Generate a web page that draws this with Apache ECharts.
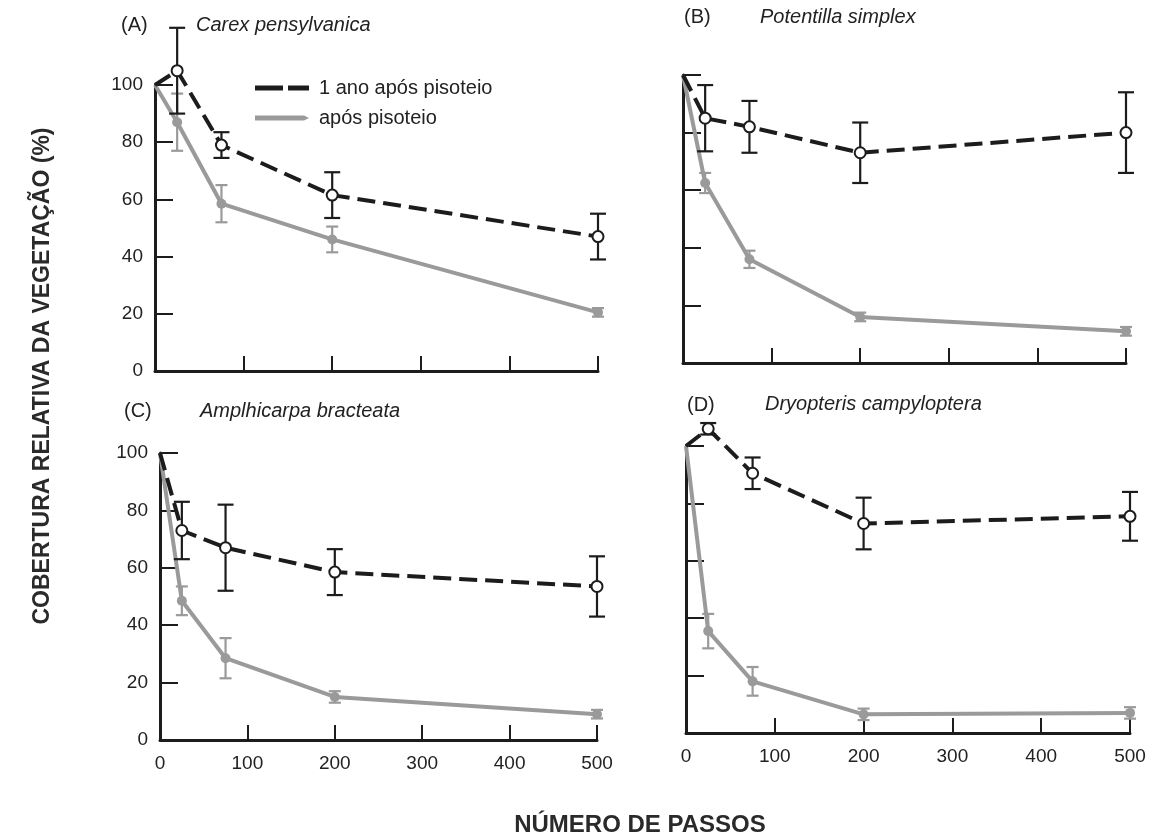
<!DOCTYPE html>
<html>
<head>
<meta charset="utf-8">
<script src="https://cdn.jsdelivr.net/npm/echarts@6/dist/echarts.min.js"></script>
<style>
  html, body { margin: 0; padding: 0; background: #fff; }
  #chart { width: 1152px; height: 836px; }
</style>
</head>
<body>
<div id="chart"></div>
<script>
// número de passos
var steps = [0, 25, 75, 200, 500];

// (A) Carex pensylvanica
var anoA = [100, 105, 79, 61.5, 47];
var anoErrA = [0, 15, 4.5, 8, 8];
var posA = [100, 87, 58.5, 46, 20.5];
var posErrA = [0, 10, 6.5, 4.5, 1.5];

// (B) Potentilla simplex
var anoB = [100, 85, 82, 73, 80];
var anoErrB = [0, 11.5, 9, 10.5, 14];
var posB = [100, 62.5, 36, 16, 11];
var posErrB = [0, 3.5, 3, 1.5, 1.5];

// (C) Amplhicarpa bracteata
var anoC = [100, 73, 67, 58.5, 53.5];
var anoErrC = [0, 10, 15, 8, 10.5];
var posC = [100, 48.5, 28.5, 15, 9];
var posErrC = [0, 5, 7, 2, 1.5];

// (D) Dryopteris campyloptera
var anoD = [100, 106, 90.5, 73, 75.5];
var anoErrD = [0, 2, 5.5, 9, 8.5];
var posD = [100, 35.5, 18, 6.5, 7];
var posErrD = [0, 6, 5, 2, 2];

var yTicks = [0, 20, 40, 60, 80, 100];
var xTicks = [0, 100, 200, 300, 400, 500];

var ANO = '1 ano após pisoteio';
var POS = 'após pisoteio';
var BLACK = '#1c1c1c';
var GRAY = '#9a9a9a';
var FONT = 'Liberation Sans';

var panels = [
  { tag: '(A)', name: 'Carex pensylvanica', ano: anoA, anoErr: anoErrA, pos: posA, posErr: posErrA,
    grid: { left: 155, top: 85, width: 443, height: 286 }, xLab: false, yLab: true,
    tagPos: [121, 15], namePos: [196, 15] },
  { tag: '(B)', name: 'Potentilla simplex', ano: anoB, anoErr: anoErrB, pos: posB, posErr: posErrB,
    grid: { left: 683, top: 75, width: 443, height: 288 }, xLab: false, yLab: false,
    tagPos: [684, 7], namePos: [760, 7] },
  { tag: '(C)', name: 'Amplhicarpa bracteata', ano: anoC, anoErr: anoErrC, pos: posC, posErr: posErrC,
    grid: { left: 160, top: 453, width: 437, height: 287 }, xLab: true, yLab: true,
    tagPos: [124, 401], namePos: [200, 401] },
  { tag: '(D)', name: 'Dryopteris campyloptera', ano: anoD, anoErr: anoErrD, pos: posD, posErr: posErrD,
    grid: { left: 686, top: 446, width: 444, height: 287 }, xLab: true, yLab: false,
    tagPos: [687, 395], namePos: [765, 394] }
];

function lineData(vals) {
  return steps.map(function (s, i) {
    return i === 0 ? { value: [s, vals[i]], symbol: 'none' } : [s, vals[i]];
  });
}

function errData(vals, errs) {
  var out = [];
  steps.forEach(function (s, i) {
    if (errs[i] > 0) out.push([s, vals[i], errs[i]]);
  });
  return out;
}

function errBar(capW) {
  return function (params, api) {
    var x = api.value(0), y = api.value(1), e = api.value(2);
    var top = api.coord([x, y + e]);
    var bot = api.coord([x, y - e]);
    var st = { stroke: api.visual('color'), lineWidth: 2.2 };
    return {
      type: 'group',
      children: [
        { type: 'line', shape: { x1: top[0], y1: top[1], x2: bot[0], y2: bot[1] }, style: st },
        { type: 'line', shape: { x1: top[0] - capW, y1: top[1], x2: top[0] + capW, y2: top[1] }, style: st },
        { type: 'line', shape: { x1: bot[0] - capW, y1: bot[1], x2: bot[0] + capW, y2: bot[1] }, style: st }
      ]
    };
  };
}

var grids = [], xAxes = [], yAxes = [], series = [], titles = [];

panels.forEach(function (p, k) {
  grids.push(p.grid);
  xAxes.push({
    type: 'value', gridIndex: k, min: xTicks[0], max: xTicks[xTicks.length - 1], interval: 100,
    axisLine: { lineStyle: { color: BLACK, width: 3 } },
    axisTick: { inside: true, length: 15, lineStyle: { color: BLACK, width: 2 } },
    axisLabel: { show: p.xLab, margin: 14, color: '#222', fontSize: 19, fontFamily: FONT },
    splitLine: { show: false }
  });
  yAxes.push({
    type: 'value', gridIndex: k, min: yTicks[0], max: yTicks[yTicks.length - 1], interval: 20,
    axisLine: { show: true, lineStyle: { color: BLACK, width: 3 } },
    axisTick: { show: true, inside: true, length: 18, lineStyle: { color: BLACK, width: 2 } },
    axisLabel: { show: p.yLab, margin: 12, color: '#222', fontSize: 19, fontFamily: FONT },
    splitLine: { show: false }
  });

  series.push({
    name: POS, type: 'custom', xAxisIndex: k, yAxisIndex: k, clip: false, z: 2,
    itemStyle: { color: GRAY }, renderItem: errBar(6),
    encode: { x: 0, y: 1 }, data: errData(p.pos, p.posErr)
  });
  series.push({
    name: POS, type: 'line', xAxisIndex: k, yAxisIndex: k, clip: false, z: 3,
    symbol: 'circle', symbolSize: 10, showAllSymbol: true,
    lineStyle: { color: GRAY, width: 4 },
    itemStyle: { color: GRAY },
    data: lineData(p.pos)
  });
  series.push({
    name: ANO, type: 'custom', xAxisIndex: k, yAxisIndex: k, clip: false, z: 4,
    itemStyle: { color: BLACK }, renderItem: errBar(8),
    encode: { x: 0, y: 1 }, data: errData(p.ano, p.anoErr)
  });
  series.push({
    name: ANO, type: 'line', xAxisIndex: k, yAxisIndex: k, clip: false, z: 5,
    symbol: 'circle', symbolSize: 11, showAllSymbol: true,
    lineStyle: { color: BLACK, width: 4, type: [18, 8] },
    itemStyle: { color: '#fff', borderColor: BLACK, borderWidth: 2 },
    data: lineData(p.ano)
  });

  titles.push({
    text: p.tag, left: p.tagPos[0], top: p.tagPos[1], padding: 0,
    textStyle: { fontSize: 20, fontWeight: 'normal', color: '#222', fontFamily: FONT }
  });
  titles.push({
    text: p.name, left: p.namePos[0], top: p.namePos[1], padding: 0,
    textStyle: { fontSize: 20, fontWeight: 'normal', fontStyle: 'italic', color: '#222', fontFamily: FONT }
  });
});

var chart = echarts.init(document.getElementById('chart'));
var option = {
  backgroundColor: '#fff',
  animation: false,
  title: titles,
  legend: {
    orient: 'vertical', left: 250, top: 73, itemGap: 10,
    itemWidth: 54, itemHeight: 5,
    textStyle: { fontSize: 20, color: '#222', fontFamily: FONT, padding: [0, 0, 0, 5] },
    data: [
      { name: ANO, icon: 'path://M0,0h28v5h-28z M33,0h21v5h-21z', itemStyle: { color: BLACK, borderWidth: 0 } },
      { name: POS, icon: 'path://M0,0h49l5,2.5l-5,2.5h-49z', itemStyle: { color: GRAY, borderWidth: 0 } }
    ]
  },
  grid: grids,
  xAxis: xAxes,
  yAxis: yAxes,
  series: series,
  graphic: [
    {
      type: 'text', x: 43, y: 376, rotation: Math.PI / 2,
      style: {
        text: 'COBERTURA RELATIVA DA VEGETAÇÃO (%)', fill: '#2a2a2a',
        font: 'bold 23px "Liberation Sans"', align: 'center', verticalAlign: 'middle'
      }
    },
    {
      type: 'text', x: 640, y: 825,
      style: {
        text: 'NÚMERO DE PASSOS', fill: '#2a2a2a',
        font: 'bold 24px "Liberation Sans"', align: 'center', verticalAlign: 'middle'
      }
    }
  ]
};
chart.setOption(option);
</script>
</body>
</html>
